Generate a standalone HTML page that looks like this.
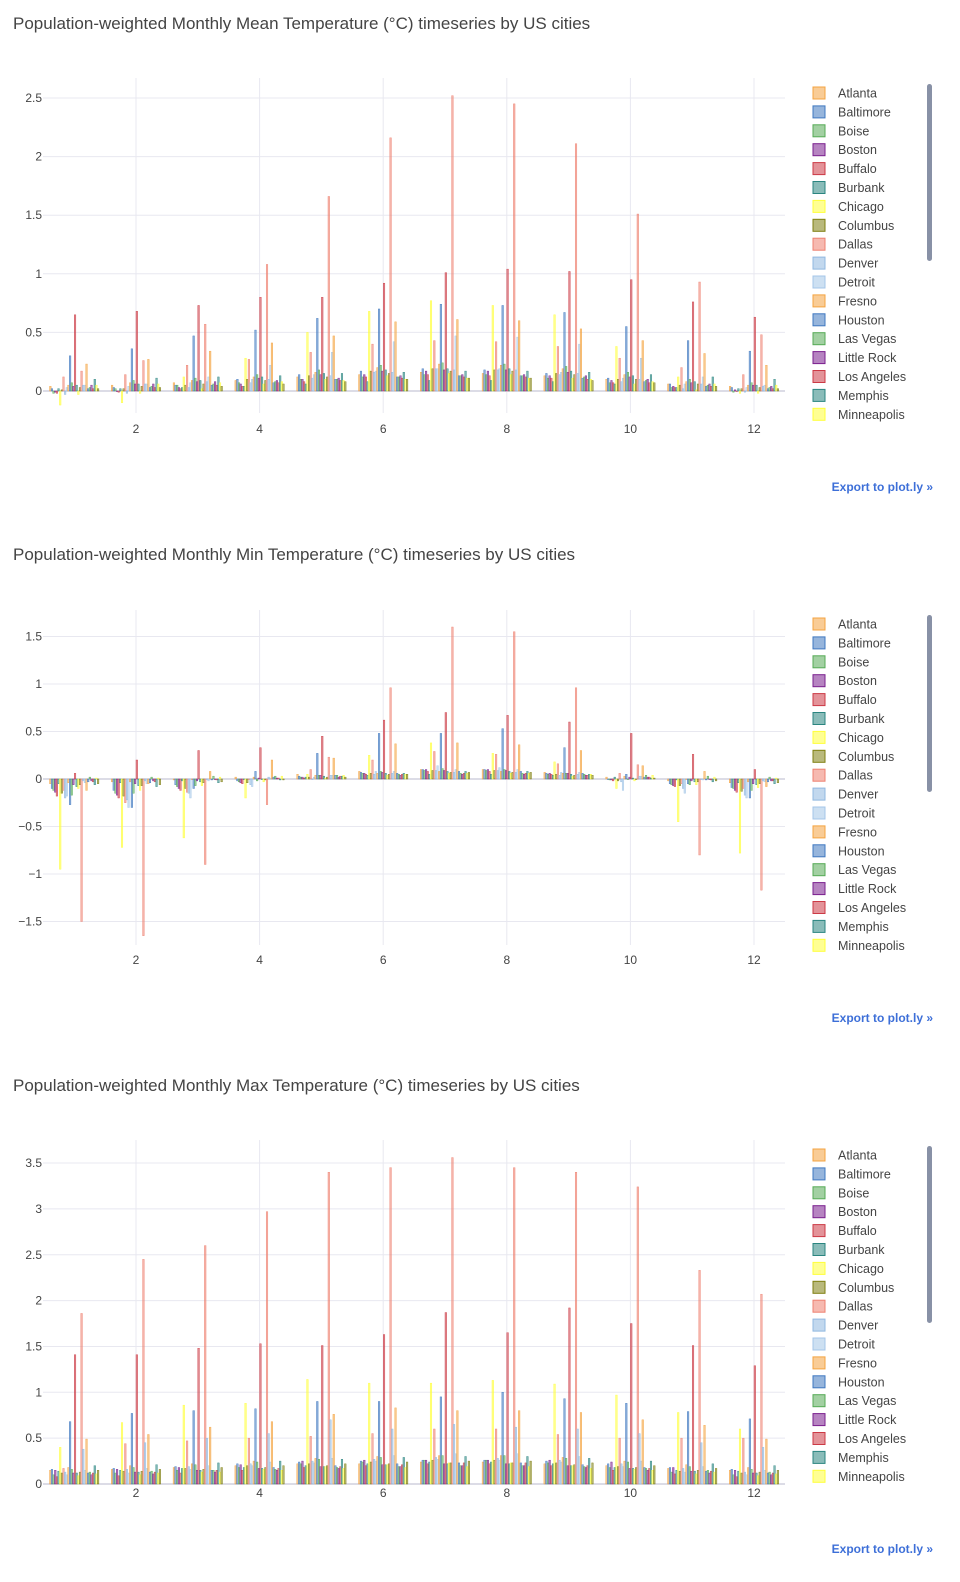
<!DOCTYPE html>
<html><head><meta charset="utf-8"><style>
body{margin:0;background:#fff;width:960px;height:1582px;overflow:hidden;font-family:"Liberation Sans",sans-serif;}
svg{position:absolute;left:0;display:block}
</style></head><body>
<div id="root"></div>
<script>
const cities=["Atlanta","Baltimore","Boise","Boston","Buffalo","Burbank","Chicago","Columbus","Dallas","Denver","Detroit","Fresno","Houston","Las Vegas","Little Rock","Los Angeles","Memphis","Minneapolis","New York","Phoenix","Portland","Sacramento","Salt Lake City","San Antonio","San Diego","San Francisco","Seattle","St. Louis","Tampa","Washington"];
const months=[1,2,3,4,5,6,7,8,9,10,11,12];
const xTickLabels=[2,4,6,8,10,12];
const meanSeries=[
[.04,.05,.07,.09,.12,.14,.16,.15,.13,.10,.06,.04],
[.02,.03,.05,.10,.14,.17,.19,.18,.15,.11,.06,.03],
[-.02,.02,.05,.07,.10,.12,.14,.14,.11,.07,.03,-.01],
[-.01,0,.03,.06,.10,.14,.17,.17,.13,.09,.04,.01],
[-.02,-.01,.02,.04,.08,.12,.14,.13,.11,.07,.03,0],
[.02,.02,.03,.04,.06,.08,.09,.09,.08,.06,.03,.02],
[-.12,-.10,.12,.28,.50,.68,.77,.73,.65,.38,.12,-.02],
[.01,.02,.05,.10,.13,.17,.19,.18,.15,.10,.05,.02],
[.12,.14,.22,.27,.33,.40,.43,.42,.38,.28,.20,.14],
[-.03,-.02,.03,.07,.11,.16,.19,.18,.14,.08,.02,-.01],
[.03,.04,.07,.10,.14,.17,.19,.19,.16,.11,.06,.03],
[.05,.07,.09,.12,.16,.20,.23,.22,.19,.14,.08,.05],
[.30,.36,.47,.52,.62,.70,.74,.73,.67,.55,.43,.34],
[.07,.09,.11,.14,.18,.22,.24,.23,.21,.16,.10,.07],
[.04,.06,.08,.11,.14,.17,.18,.18,.16,.12,.07,.05],
[.65,.68,.73,.80,.80,.92,1.01,1.04,1.02,.95,.76,.63],
[.05,.06,.09,.12,.15,.18,.19,.19,.17,.13,.08,.05],
[-.03,-.02,.02,.06,.10,.13,.15,.14,.11,.06,.01,-.02],
[.03,.04,.06,.09,.12,.15,.17,.17,.14,.10,.06,.03],
[.17,.26,.57,1.08,1.66,2.16,2.52,2.45,2.11,1.51,.93,.48],
[.05,.06,.08,.10,.13,.16,.18,.18,.15,.10,.06,.04],
[.05,.06,.12,.22,.33,.42,.47,.46,.40,.28,.12,.05],
[.23,.27,.34,.41,.47,.59,.61,.60,.53,.43,.32,.22],
[.02,.03,.05,.07,.10,.12,.13,.13,.11,.08,.04,.02],
[.03,.04,.06,.08,.10,.12,.13,.13,.12,.09,.05,.03],
[.05,.06,.08,.09,.11,.13,.14,.14,.13,.10,.06,.04],
[.02,.03,.05,.07,.09,.11,.12,.12,.10,.07,.04,.02],
[.10,.11,.12,.13,.15,.16,.17,.17,.16,.14,.12,.10],
[.05,.06,.07,.08,.09,.10,.11,.11,.10,.08,.06,.05],
[.02,.03,.04,.06,.08,.10,.11,.11,.09,.07,.04,.02]];
const minSeries=[
[-.05,-.03,-.01,.02,.05,.08,.10,.10,.07,.02,-.02,-.04],
[-.10,-.12,-.06,-.02,.03,.07,.10,.10,.06,0,-.05,-.09],
[-.12,-.15,-.08,-.03,.02,.06,.09,.09,.05,-.01,-.06,-.10],
[-.14,-.17,-.10,-.04,.02,.06,.10,.10,.06,-.01,-.07,-.12],
[-.18,-.20,-.12,-.05,.01,.05,.08,.08,.05,-.02,-.08,-.14],
[-.05,-.04,-.02,0,.02,.04,.05,.05,.04,.02,-.01,-.04],
[-.95,-.72,-.62,-.20,.05,.25,.38,.27,.18,-.10,-.45,-.78],
[-.15,-.18,-.10,-.04,.02,.06,.09,.09,.05,-.02,-.07,-.13],
[-.12,-.25,-.14,0,.10,.20,.29,.26,.16,.06,-.05,-.10],
[-.20,-.22,-.15,-.06,0,.05,.09,.09,.04,-.03,-.10,-.17],
[-.18,-.30,-.20,-.08,.02,.08,.14,.12,.07,-.12,-.15,-.20],
[-.04,-.03,0,.02,.04,.06,.08,.08,.06,.03,0,-.03],
[-.27,-.30,-.10,.08,.27,.48,.48,.53,.33,.05,-.05,-.20],
[-.17,-.15,-.07,-.02,.04,.08,.11,.10,.06,0,-.06,-.12],
[-.06,-.05,-.02,.01,.04,.07,.09,.09,.06,.02,-.02,-.05],
[.06,.20,.30,.33,.45,.62,.70,.67,.60,.48,.26,.10],
[-.08,-.07,-.03,0,.03,.06,.08,.08,.05,.01,-.03,-.06],
[-.10,-.12,-.07,-.03,.01,.04,.06,.06,.03,-.02,-.06,-.09],
[-.06,-.07,-.04,-.01,.02,.05,.07,.07,.04,0,-.03,-.05],
[-1.5,-1.65,-.90,-.27,.23,.96,1.6,1.55,.96,.15,-.80,-1.17],
[-.02,-.02,0,.02,.04,.06,.07,.07,.05,.03,0,-.02],
[-.04,-.05,-.02,.01,.04,.08,.10,.10,.07,.03,-.01,-.03],
[-.12,-.05,.08,.20,.22,.37,.38,.36,.30,.14,.08,-.08],
[-.03,-.04,-.01,.02,.04,.06,.08,.08,.06,.02,-.01,-.03],
[.02,.02,.03,.03,.04,.05,.06,.06,.05,.04,.03,.02],
[-.02,-.02,0,.01,.02,.04,.05,.05,.04,.02,0,-.02],
[-.03,-.03,-.01,.01,.03,.05,.06,.06,.04,.02,-.01,-.02],
[-.06,-.08,-.04,-.01,.03,.06,.08,.08,.05,.01,-.03,-.05],
[.01,.01,.02,.03,.04,.05,.06,.06,.05,.04,.02,.01],
[-.05,-.06,-.03,-.01,.02,.05,.07,.07,.04,.01,-.02,-.04]];
const maxSeries=[
[.15,.16,.18,.20,.22,.22,.24,.24,.22,.20,.17,.15],
[.16,.17,.19,.22,.24,.25,.26,.26,.25,.22,.18,.16],
[.10,.12,.15,.18,.22,.24,.26,.26,.23,.18,.13,.10],
[.15,.16,.18,.21,.25,.26,.26,.26,.26,.24,.18,.15],
[.08,.09,.12,.15,.18,.20,.22,.22,.20,.15,.11,.08],
[.14,.15,.17,.18,.20,.22,.24,.24,.22,.18,.15,.14],
[.40,.67,.86,.88,1.14,1.10,1.10,1.13,1.09,.97,.78,.60],
[.12,.14,.17,.20,.22,.24,.26,.26,.23,.19,.14,.12],
[.17,.44,.47,.50,.52,.55,.60,.60,.54,.50,.50,.50],
[.13,.16,.19,.22,.25,.27,.29,.28,.26,.22,.17,.13],
[.10,.12,.16,.20,.23,.25,.27,.26,.24,.19,.13,.10],
[.18,.20,.22,.25,.28,.30,.31,.31,.29,.25,.21,.18],
[.68,.77,.80,.82,.90,.90,.95,1.0,.93,.88,.79,.71],
[.16,.18,.21,.24,.27,.29,.31,.31,.28,.24,.19,.16],
[.12,.13,.15,.17,.19,.21,.22,.22,.20,.17,.14,.12],
[1.41,1.41,1.48,1.53,1.51,1.63,1.87,1.65,1.92,1.75,1.51,1.29],
[.12,.13,.15,.17,.19,.21,.22,.22,.20,.17,.14,.12],
[.09,.10,.13,.16,.19,.21,.23,.23,.20,.16,.11,.09],
[.13,.14,.16,.18,.20,.22,.23,.23,.21,.18,.15,.13],
[1.86,2.45,2.60,2.97,3.40,3.45,3.56,3.45,3.40,3.24,2.33,2.07],
[.38,.45,.50,.55,.70,.60,.65,.62,.60,.55,.45,.40],
[.15,.17,.20,.24,.28,.31,.33,.33,.30,.25,.19,.15],
[.49,.54,.62,.68,.76,.83,.80,.80,.78,.70,.64,.49],
[.12,.13,.15,.18,.20,.22,.23,.23,.21,.18,.14,.12],
[.13,.14,.15,.16,.18,.19,.20,.20,.19,.17,.15,.13],
[.10,.11,.13,.15,.17,.19,.20,.20,.18,.15,.12,.10],
[.12,.13,.15,.17,.19,.21,.23,.23,.20,.17,.14,.12],
[.20,.21,.23,.25,.27,.29,.30,.30,.28,.25,.22,.20],
[.11,.12,.13,.15,.17,.18,.19,.19,.17,.15,.13,.11],
[.15,.16,.18,.20,.22,.24,.25,.25,.23,.20,.17,.15]];
const meanTicks=[0,0.5,1,1.5,2,2.5];
const minTicks=[-1.5,-1,-0.5,0,0.5,1,1.5];
const maxTicks=[0,0.5,1,1.5,2,2.5,3,3.5];

const palette=['#f4a340','#3f78c0','#55aa55','#7a1f8e','#cc3a45','#2a8580','#ffff3a','#7f7f10','#ee8070','#90b8e0','#a4c6e8'];
const NS='http://www.w3.org/2000/svg';
function mk(tag,attrs,parent){const e=document.createElementNS(NS,tag);for(const k in attrs)e.setAttribute(k,attrs[k]);if(parent)parent.appendChild(e);return e;}
function fmt(v){return (v<0?'\u2212':'')+Math.abs(v);}

function drawChart(cfg){
  const svg=mk('svg',{width:960,height:cfg.h,style:'top:'+cfg.top+'px'},document.getElementById('root'));
  
  
  const xS=m=>12.4+61.8*m;
  const yS=v=>cfg.zero-v*cfg.ppu;
  const t=mk('text',{x:13,y:29,'font-size':17,fill:'#444'},svg);t.textContent=cfg.title;
  
  
  cfg.ticks.forEach(v=>{
    const g=mk('line',{x1:43,x2:785,y1:yS(v),y2:yS(v),stroke:v===0?'#dcdce6':'#e8e8f0','stroke-width':v===0?2:1},svg);
    
    
    const l=mk('text',{x:42,y:yS(v)+4,'font-size':12,fill:'#444','text-anchor':'end'},svg);l.textContent=fmt(v);
    
    
  });
  xTickLabels.forEach(m=>{
    const g=mk('line',{x1:xS(m),x2:xS(m),y1:cfg.gTop,y2:cfg.gBot,stroke:'#e8e8f0'},svg);
    
    
    const l=mk('text',{x:xS(m),y:cfg.xl,'font-size':12,fill:'#444','text-anchor':'middle'},svg);l.textContent=m;
    
    
  });
  const n=cities.length,bw=49.4/n;
  cfg.series.forEach((vals,ci)=>{
    const col=palette[ci%palette.length];
    vals.forEach((v,mi)=>{
      const x=xS(months[mi])-24.7+ci*bw;
      const y0=yS(0),y1=yS(v);
      const r=mk('rect',{x:x,y:Math.min(y0,y1),width:bw,height:Math.max(0.5,Math.abs(y1-y0)),fill:col,'fill-opacity':0.6,stroke:col,'stroke-width':0.4},svg);
      
      
    });
  });
  for(let i=0;i<18;i++){
    const col=palette[i%palette.length],y=93+i*18.9;
    const g=mk('g',{},svg);
    
    
    mk('rect',{x:813,y:y-6,width:12,height:12,fill:col,'fill-opacity':0.55,stroke:col,'stroke-width':1},g);
    const tx=mk('text',{x:838,y:y+4.5,'font-size':12.5,fill:'#444'},g);tx.textContent=cities[i];
  }
  const sb=mk('rect',{x:927,y:84,width:5,height:177,rx:2.5,fill:'#8891a6'},svg);
  
  
  const ex=mk('text',{x:933,y:491,'font-size':12,'font-weight':'bold',fill:'#3d6fd8','text-anchor':'end'},svg);ex.textContent='Export to plot.ly \u00bb';
  
  
}
drawChart({name:'mean-temperature-chart',top:0,h:531,title:'Population-weighted Monthly Mean Temperature (\u00b0C) timeseries by US cities',series:meanSeries,ticks:meanTicks,zero:391,ppu:117.2,gTop:78,gBot:413,xl:433});
drawChart({name:'min-temperature-chart',top:531,h:531,title:'Population-weighted Monthly Min Temperature (\u00b0C) timeseries by US cities',series:minSeries,ticks:minTicks,zero:248,ppu:95,gTop:79,gBot:414,xl:433});
drawChart({name:'max-temperature-chart',top:1062,h:520,title:'Population-weighted Monthly Max Temperature (\u00b0C) timeseries by US cities',series:maxSeries,ticks:maxTicks,zero:422,ppu:91.7,gTop:78,gBot:422,xl:435});
</script>
</body></html>
